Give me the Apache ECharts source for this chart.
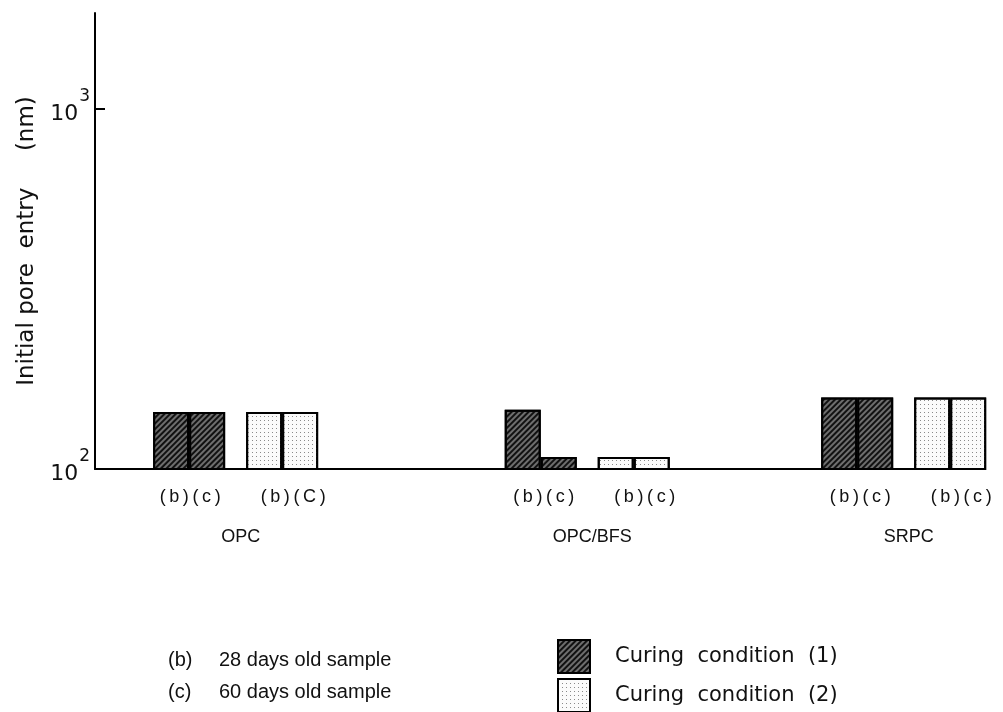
<!DOCTYPE html>
<html>
<head>
<meta charset="utf-8">
<script src="https://cdn.jsdelivr.net/npm/echarts@6/dist/echarts.min.js"></script>
<style>
html, body {margin: 0; padding: 0; background: #fff;}
#contain {width: 1003px; height: 712px;}
</style>
</head>
<body>
<div id="contain"></div>
<script>
// cement types and the sample labels under each pair of bars
var groups = ['OPC', 'OPC/BFS', 'SRPC'];
var subLabels = [
    ['(b)', '(c)', '(b)', '(C)'],
    ['(b)', '(c)', '(b)', '(c)'],
    ['(b)', '(c)', '(b)', '(c)']
];
// initial pore entry (nm)
var cure1b = [144, 146, 158];
var cure1c = [144, 108, 158];
var cure2b = [144, 108, 158];
var cure2c = [144, 108, 158];
var yTicks = [100, 1000];
var yMin = 100, yMax = 1848;
var seriesNames = ['Curing condition (1)', 'Curing condition (2)'];
var ageNotes = [['(b)', '28 days old sample'], ['(c)', '60 days old sample']];

// layout of the category axis: each group sits on one slot
var slotCount = 26;
var groupSlot = [4, 14, 23];

var font = 'DejaVu Sans';
var sans = 'Liberation Sans';
var thin = '\u2009';
var cats = [];
for (var i = 0; i < slotCount; i++) cats.push('');
for (var g = 0; g < groups.length; g++) cats[groupSlot[g]] = groups[g];

function slotData(values) {
    var out = [];
    for (var i = 0; i < slotCount; i++) out.push('-');
    for (var g = 0; g < values.length; g++) out[groupSlot[g]] = values[g];
    return out;
}

function spaced(s) {
    return s.split('').join(thin);
}

var hatch = {
    color: '#6e6e6e',
    borderColor: '#000',
    borderWidth: 2,
    decal: {
        symbol: 'rect',
        symbolSize: 1,
        color: '#111',
        dashArrayX: [1, 0],
        dashArrayY: [2, 1.6],
        rotation: -Math.PI / 4
    }
};
var dots = {
    color: '#fbfbfb',
    borderColor: '#000',
    borderWidth: 2,
    decal: {
        symbol: 'rect',
        symbolSize: 1,
        color: '#8a8a8a',
        dashArrayX: [1, 3],
        dashArrayY: [1, 3],
        rotation: 0
    }
};

function barSeries(name, values, style) {
    return {
        name: name,
        type: 'bar',
        data: slotData(values),
        barWidth: 36,
        barMinWidth: 36,
        barGap: '0%',
        itemStyle: style
    };
}

function legendFor(name, top) {
    return {
        data: [name],
        orient: 'vertical',
        left: 552,
        top: top,
        itemWidth: 32,
        itemHeight: 33,
        icon: 'rect',
        formatter: function (n) { return n.replace(/ /g, '  '); },
        textStyle: {fontFamily: font, fontSize: 21, color: '#111', padding: [0, 0, 0, 20]}
    };
}

var myChart = echarts.init(document.getElementById('contain'));
var option = {
    animation: false,
    backgroundColor: '#fff',
    textStyle: {fontFamily: font, color: '#111'},
    title: {
        left: 163,
        top: 639,
        text: ageNotes.map(function (n) { return '{k|' + n[0] + '}{v|' + n[1] + '}'; }).join('\n'),
        textStyle: {
            fontWeight: 'normal',
            rich: {
                k: {fontFamily: sans, fontSize: 20, fontWeight: 'normal', color: '#111', width: 51, lineHeight: 32},
                v: {fontFamily: sans, fontSize: 20, fontWeight: 'normal', color: '#111', lineHeight: 32}
            }
        }
    },
    legend: [
        legendFor(seriesNames[0], 634),
        legendFor(seriesNames[1], 673)
    ],
    grid: {left: 95, top: 13, width: 879, height: 456},
    xAxis: {
        type: 'category',
        data: cats,
        boundaryGap: false,
        axisLine: {onZero: false, lineStyle: {color: '#000', width: 2}},
        axisTick: {show: false},
        splitLine: {show: false},
        axisLabel: {
            interval: 0,
            margin: 16,
            formatter: function (name) {
                var g = groups.indexOf(name);
                if (g < 0) return '';
                var s = subLabels[g];
                var pairs = spaced(s[0]) + thin + spaced(s[1]) + '        ' + spaced(s[2]) + thin + spaced(s[3]);
                return '{p|' + pairs + '}\n{g|' + name + '}';
            },
            rich: {
                p: {fontFamily: sans, fontSize: 18, color: '#111', lineHeight: 24, padding: [0, 0, 0, 14]},
                g: {fontFamily: sans, fontSize: 18, color: '#111', lineHeight: 56, padding: [0, 0, 0, 10]}
            }
        }
    },
    yAxis: {
        type: 'log',
        logBase: 10,
        min: yMin,
        max: yMax,
        name: 'Initial pore  entry     (nm)',
        nameLocation: 'middle',
        nameGap: 56,
        nameTextStyle: {fontFamily: font, fontSize: 23, color: '#111'},
        axisLine: {show: true, lineStyle: {color: '#000', width: 2}},
        axisTick: {show: true, inside: true, length: 10, customValues: [1000], lineStyle: {color: '#000', width: 2}},
        splitLine: {show: false},
        axisLabel: {
            customValues: yTicks,
            margin: 5,
            formatter: function (v) {
                var p = Math.round(Math.log(v) / Math.LN10);
                return '{n|10}{s|' + p + '}';
            },
            rich: {
                n: {fontFamily: font, fontSize: 22, color: '#111', padding: [10, 0, 0, 0]},
                s: {fontFamily: font, fontSize: 17, color: '#111', padding: [0, 0, 24, 1]}
            }
        }
    },
    series: [
        barSeries(seriesNames[0], cure1b, hatch),
        barSeries(seriesNames[0], cure1c, hatch),
        {
            name: 'gap',
            type: 'bar',
            data: slotData([]),
            barWidth: 21,
            barMinWidth: 21,
            barGap: '0%'
        },
        barSeries(seriesNames[1], cure2b, dots),
        barSeries(seriesNames[1], cure2c, dots)
    ]
};
myChart.setOption(option, true);
</script>
</body>
</html>
